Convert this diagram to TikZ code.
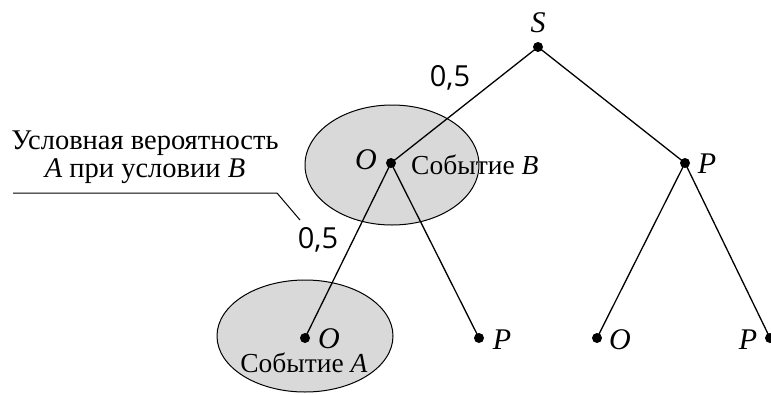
\documentclass[tikz,border=0pt]{standalone}
\usepackage{fontspec}
\setmainfont{Liberation Serif}
\newfontfamily\numfont{Open Sans}
\usepackage[outline]{contour}
\contourlength{2pt}
\tikzset{
  x=1pt, y=-1pt,
  branch/.style={line width=1.3pt},
  evt/.style={draw, line width=1pt, fill=black!15},
  dot/.style={circle, fill=black, inner sep=0pt, minimum size=10pt},
  lbl/.style={font=\fontsize{30}{32}\selectfont\itshape, inner sep=0pt},
  prob/.style={font=\fontsize{29}{32}\selectfont\numfont, inner sep=0pt},
  txt/.style={font=\fontsize{27.5}{29}\selectfont, inner sep=0pt, align=center},
}
\begin{document}
\begin{tikzpicture}
\useasboundingbox (0,0) rectangle (771,394);
% events
\draw[evt] (392,165) ellipse [x radius=87, y radius=60];
\draw[evt] (305,336) ellipse [x radius=88, y radius=56];
% nodes
\node[dot] (s) at (538,47) {};
\node[dot] (o1) at (391,163) {};
\node[dot] (p1) at (685,163) {};
\node[dot] (oo) at (305,338) {};
\node[dot] (op) at (479,338) {};
\node[dot] (po) at (597,338) {};
\node[dot] (pp) at (770,338) {};
% branches
\draw[branch] (s.center) -- (o1.center);
\draw[branch] (s.center) -- (p1.center);
\draw[branch] (o1.center) -- (oo.center);
\draw[branch] (o1.center) -- (op.center);
\draw[branch] (p1.center) -- (po.center);
\draw[branch] (p1.center) -- (pp.center);
% labels
\node[lbl] (ls) at (538,23) {S};
\node[lbl] (lo1) at (366,160) {O};
\node[lbl] (lp1) at (707,164) {P};
\node[lbl] (loo) at (329,339) {O};
\node[lbl] (lop) at (502,340) {P};
\node[lbl] (lpo) at (620,340) {O};
\node[lbl] (lpp) at (748,340) {P};
\node[prob] (p05a) at (450,78) {0,5};
\node[prob] (p05b) at (318,240) {0,5};
\node[txt, anchor=west] (eb) at (411,165) {\contour{white}{Событие \textit{B}}};
\node[txt] (ea) at (304,362.5) {\contour{white}{Событие \textit{A}}};
% callout
\node[txt, font=\fontsize{28.5}{28}\selectfont] (cond) at (145,157) {Условная вероятность\\\textit{A} при условии \textit{B}};
\coordinate (c1) at (13,193);
\coordinate (c2) at (277,193);
\coordinate (c3) at (300,220);
\draw[line width=1pt] (c1) -- (c2) -- (c3);
\end{tikzpicture}
\end{document}
